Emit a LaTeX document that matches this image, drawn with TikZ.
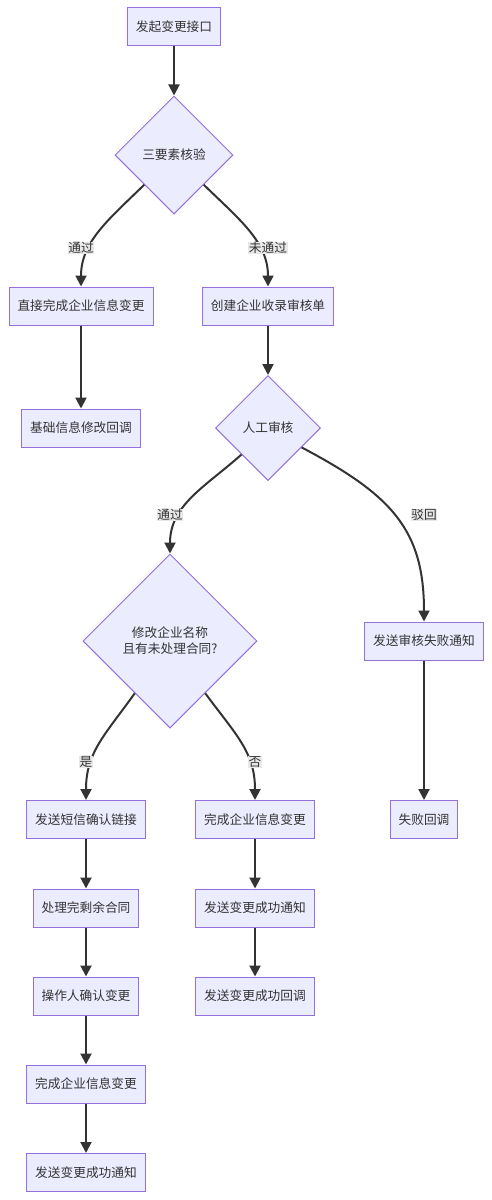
\documentclass[tikz,border=0pt]{standalone}
\usepackage{fontspec}
\newfontfamily\cjk{Noto Sans CJK SC}
\usetikzlibrary{shapes.geometric,arrows.meta}
\definecolor{nodefill}{HTML}{ECECFF}
\definecolor{nodeline}{HTML}{9370DB}
\definecolor{edgeline}{HTML}{333333}
\definecolor{txt}{HTML}{333333}
\definecolor{lblbg}{HTML}{E8E8E8}
\tikzset{
  box/.style={draw=nodeline, fill=nodefill, line width=1pt, rectangle, minimum height=38pt, inner xsep=8.5pt, inner ysep=0pt, text=txt, font=\cjk\fontsize{12.7pt}{16pt}\selectfont},
  decision/.style={draw=nodeline, fill=nodefill, line width=1pt, diamond, inner sep=0pt, text=txt, align=center, font=\cjk\fontsize{12.7pt}{16pt}\selectfont},
  lbl/.style={fill=lblbg, inner sep=0.6pt, text=txt, font=\cjk\fontsize{12.7pt}{15pt}\selectfont},
  edge/.style={draw=edgeline, line width=2pt, -{Triangle[length=11pt,width=11pt]}},
}
\begin{document}
\begin{tikzpicture}[x=1pt,y=-1pt]
\useasboundingbox (0,0) rectangle (492,1200);
\node[box] (A) at (174,26.5) {发起变更接口};
\node[decision, minimum width=118pt, minimum height=118pt] (B) at (174,155) {三要素核验};
\node[box] (C) at (81,306) {直接完成企业信息变更};
\node[box] (D) at (268,306) {创建企业收录审核单};
\node[box] (E) at (81,428) {基础信息修改回调};
\node[decision, minimum width=105pt, minimum height=105pt] (F) at (268,428) {人工审核};
\node[decision, minimum width=174pt, minimum height=174pt] (G) at (170,641) {修改企业名称\\且有未处理合同?};
\node[box] (H) at (424,641) {发送审核失败通知};
\node[box] (I) at (86,819.5) {发送短信确认链接};
\node[box] (J) at (255,819.5) {完成企业信息变更};
\node[box] (K) at (424,819.5) {失败回调};
\node[box] (L) at (86,908) {处理完剩余合同};
\node[box] (M) at (255,908) {发送变更成功通知};
\node[box] (N) at (86,996) {操作人确认变更};
\node[box] (O) at (255,996) {发送变更成功回调};
\node[box] (P) at (86,1084) {完成企业信息变更};
\node[box] (Q) at (86,1172.5) {发送变更成功通知};

\draw[edge] (A) -- (B);
\draw[edge] (B.south west) .. controls (108,220) and (81,242) .. (C.north);
\draw[edge] (B.south east) .. controls (240,220) and (268,242) .. (D.north);
\draw[edge] (C) -- (E);
\draw[edge] (D) -- (F);
\draw[edge] (F.south west) .. controls (205,487) and (170,505) .. (G.north);
\draw[edge] (F.-30) .. controls (392,495) and (424,530) .. (H.north);
\draw[edge] (G.-124) .. controls (105,735) and (86,752) .. (I.north);
\draw[edge] (G.-56) .. controls (236,735) and (255,752) .. (J.north);
\draw[edge] (H) -- (K);
\draw[edge] (I) -- (L);
\draw[edge] (L) -- (N);
\draw[edge] (N) -- (P);
\draw[edge] (P) -- (Q);
\draw[edge] (J) -- (M);
\draw[edge] (M) -- (O);

\node[lbl] (l1) at (81,248) {通过};
\node[lbl] (l2) at (268,248) {未通过};
\node[lbl] (l3) at (170,515) {通过};
\node[lbl] (l4) at (424,515) {驳回};
\node[lbl] (l5) at (86,762) {是};
\node[lbl] (l6) at (255,762) {否};
\end{tikzpicture}
\end{document}
